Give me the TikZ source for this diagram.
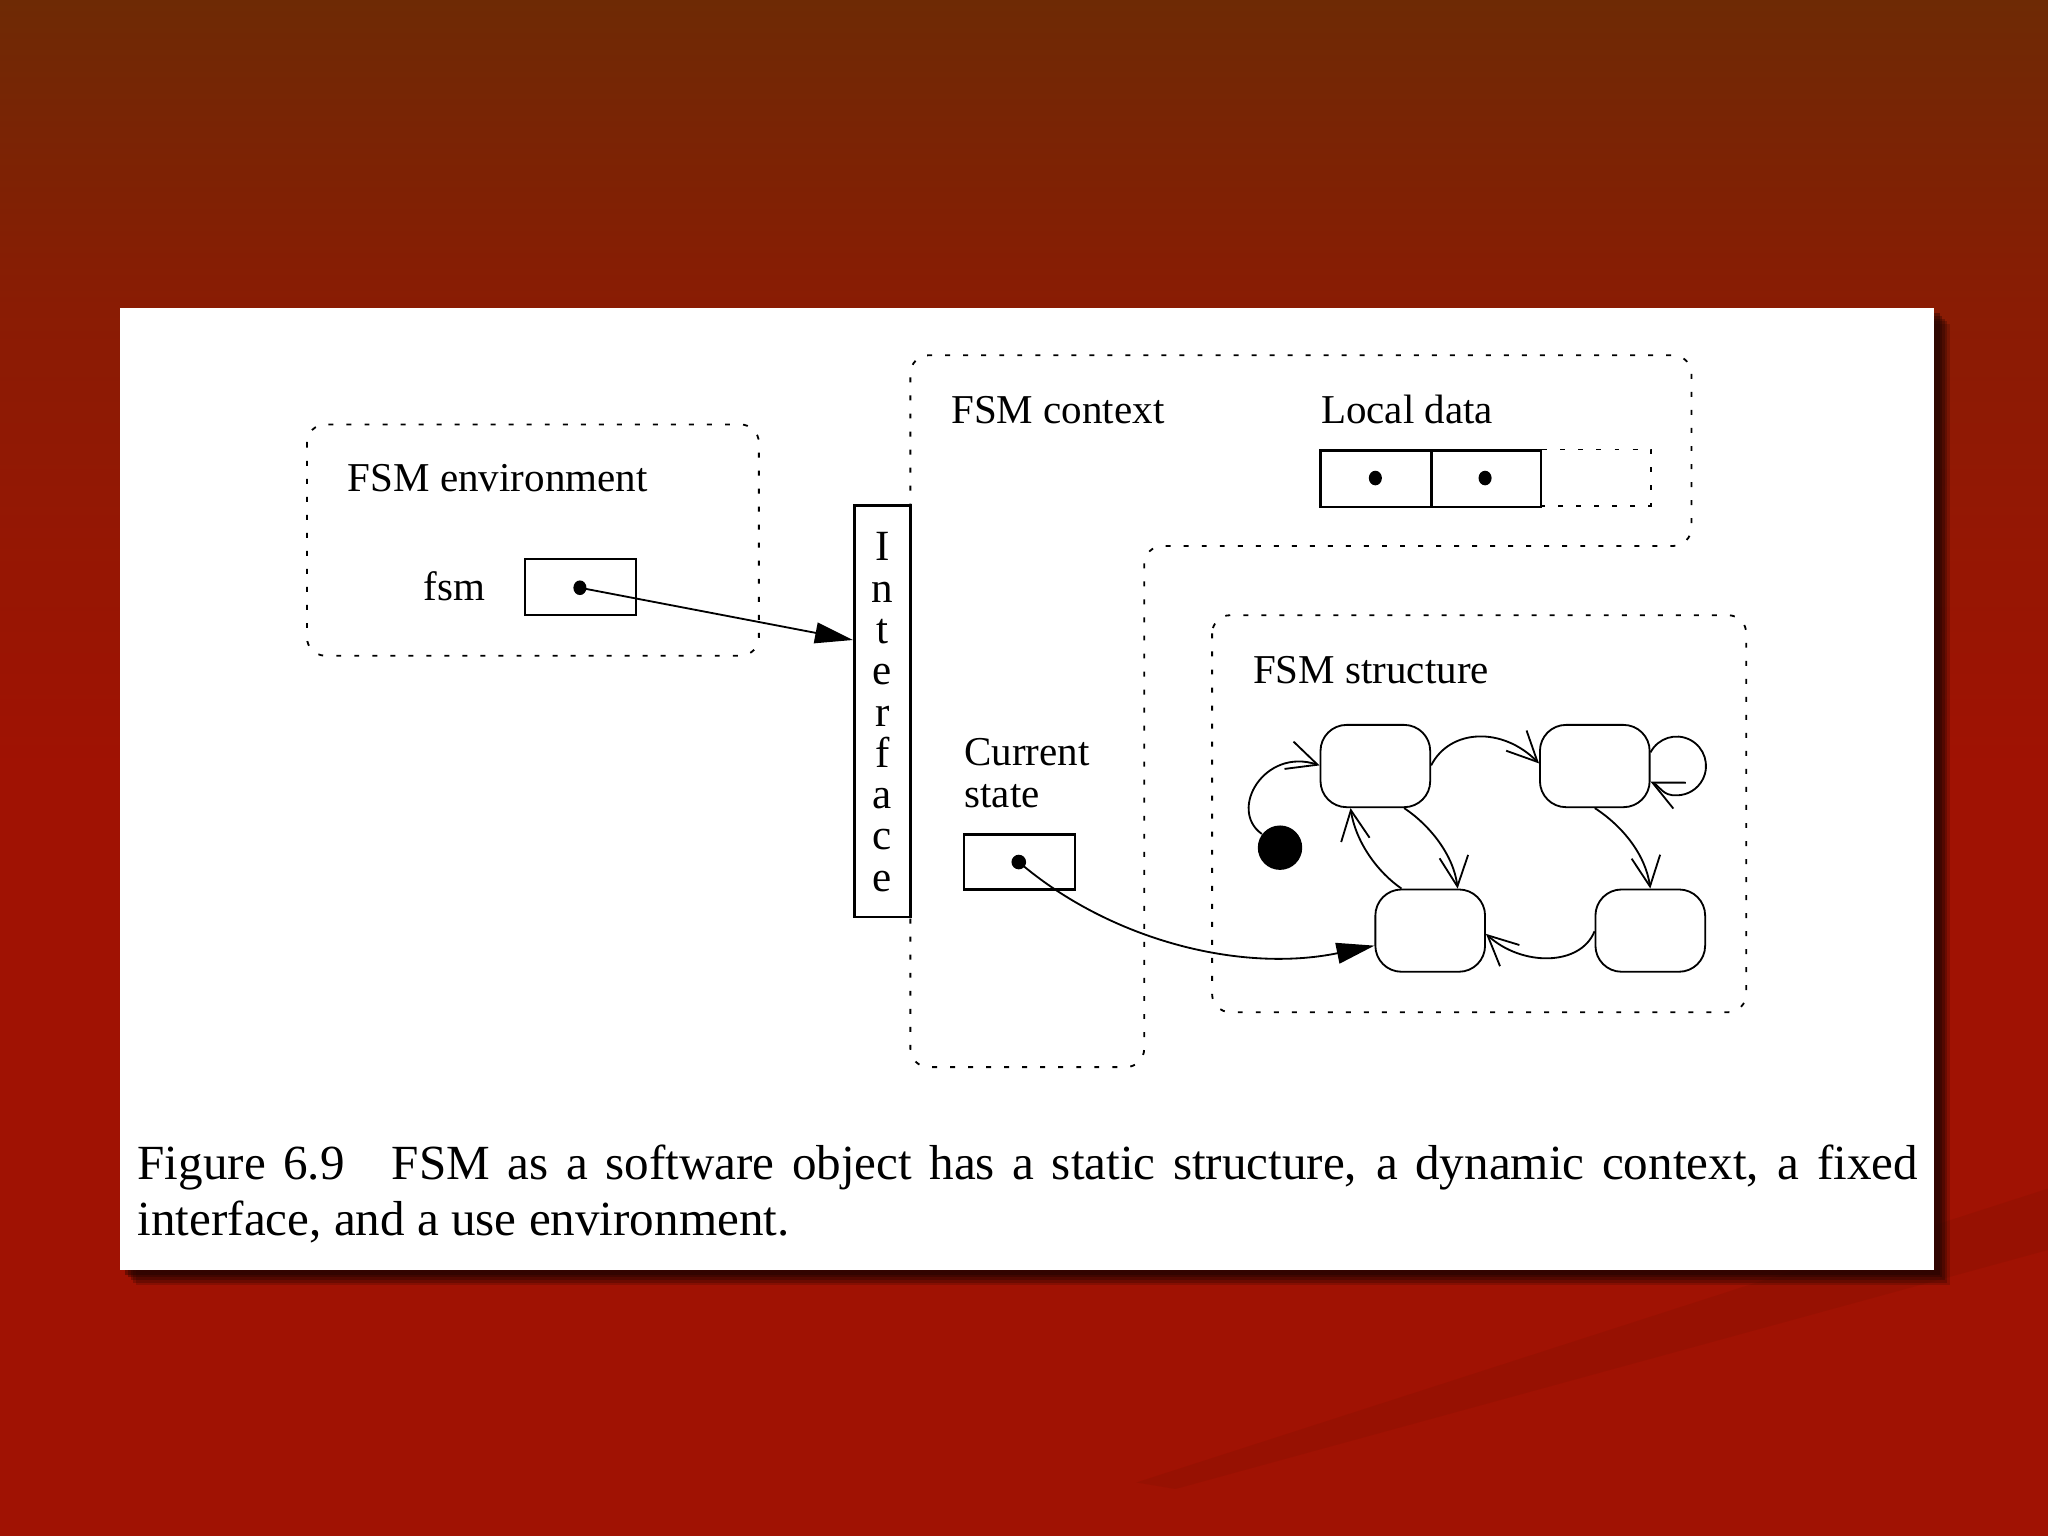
\documentclass[tikz,border=0pt]{standalone}
\usepackage{fontspec}
\setmainfont{Liberation Serif}
\usetikzlibrary{arrows.meta,calc,shapes.geometric}
\definecolor{bgtop}{HTML}{6E2A05}
\definecolor{bgmid}{HTML}{8A1C04}
\definecolor{bgbot}{HTML}{A01203}
\definecolor{shadowc}{HTML}{1E0300}
\pgfdeclareverticalshading{bgshade}{100bp}{color(0bp)=(bgbot); color(50bp)=(bgbot); color(65bp)=(bgmid); color(75bp)=(bgtop); color(100bp)=(bgtop)}
\begin{document}
\begin{tikzpicture}[x=0.5pt,y=-0.5pt,
  lbl/.style={font=\fontsize{15.7}{16}\selectfont, inner sep=0, anchor=base west},
  ifletter/.style={font=\fontsize{16.5}{16}\selectfont, inner sep=0, anchor=base},
  dotbox/.style={line width=0.7pt, dash pattern=on 1.9pt off 5pt},
  cellbox/.style={draw, line width=0.9pt, inner sep=0, minimum width=42.5pt, minimum height=21.5pt},
  fsmstate/.style={draw, line width=0.7pt, rounded corners=10pt, minimum width=42pt, minimum height=31.5pt, inner sep=0},
  ptdot/.style={ellipse, fill=black, inner sep=0, minimum width=5pt, minimum height=5.6pt},
  solidarrow/.style={line width=0.7pt, -{Triangle[length=14.5pt,width=8pt]}},
  openarrow/.style={line width=0.7pt, -{Straight Barb[length=11.5pt,width=11pt,line width=0.7pt]}}
]
\useasboundingbox (0,0) rectangle (1568,1176);
% background
\shade[shading=bgshade] (0,0) rectangle (1568,1176);
\fill[black, opacity=0.05] (1568,910) -- (1568,957) -- (900,1140) -- (870,1135) -- cycle;
% panel shadow
\foreach \d/\o in {12/0.2,10/0.25,8/0.3,6/0.35,4/0.4}
  \fill[shadowc, opacity=\o] (92+\d,236+\d) rectangle (1481+\d,972+\d);
\fill[white] (92,236) rectangle (1481,972);

% FSM environment
\draw[dotbox, rounded corners=7pt] (235,325) rectangle (581,502);
\node[lbl] (envlbl) at (266,376) {FSM environment};
\node[lbl] (fsmlbl) at (324,460) {fsm};
\node[cellbox] (fsmbox) at (444.5,449.5) {};
\node[ptdot] (fsmdot) at (444,450) {};

% FSM context
\draw[dotbox, rounded corners=7pt] (697,500) -- (697,272) -- (1295,272) -- (1295,418) -- (876,418) -- (876,817) -- (697,817) -- cycle;
\node[lbl] (ctxlbl) at (728,324) {FSM context};
\node[lbl] (ldlbl) at (1011,324) {Local data};
\node[cellbox] (ld1) at (1053.5,366.5) {};
\node[cellbox, minimum width=42pt] (ld2) at (1138,366.5) {};
\draw[dotbox] (ld2.north east) -- ++(83,0) -- ++(0,43) -- ++(-83,0);
\node[ptdot] (ld1dot) at (1053,366) {};
\node[ptdot] (ld2dot) at (1137,366) {};
\node[lbl] (curlbl) at (738,586) {Current};
\node[lbl] (statelbl) at (738,618) {state};
\node[cellbox, minimum height=21pt] (csbox) at (780.5,660) {};
\node[ptdot, minimum width=5.6pt, minimum height=5.6pt] (csdot) at (780,660) {};

% Interface
\node[draw, fill=white, line width=1pt, inner sep=0, minimum width=21.5pt, minimum height=157.5pt] (iface) at (675.5,544.5) {};
\foreach \ch [count=\i from 0] in {I,n,t,e,r,f,a,c,e}
  \node[ifletter] (if\i) at (675.5,{429.5+31.6*\i}) {\ch};

% FSM structure
\draw[dotbox, rounded corners=7pt] (928,471) rectangle (1337,775);
\node[lbl] (structlbl) at (959,523) {FSM structure};
\node[fsmstate] (s1) at (1053,586.5) {};
\node[fsmstate] (s2) at (1221,586.5) {};
\node[fsmstate] (s3) at (1095,712.5) {};
\node[fsmstate] (s4) at (1263.5,712.5) {};
\node[circle, fill=black, inner sep=0, minimum size=17pt] (init) at (980,649) {};

% transitions
\draw[openarrow] (init.143) .. controls (940,620) and (968,572) .. (s1.west |- 0,586);
\draw[openarrow] (s1.east |- 0,586) .. controls (1110,558) and (1150,556) .. (s2.west |- 0,584.5);
\draw[openarrow] ([xshift=11pt]s1.south) .. controls (1095,632) and (1113,655) .. ([xshift=10.5pt]s3.north);
\draw[openarrow] ([xshift=-11pt]s3.north) .. controls (1055,668) and (1038,645) .. ([xshift=-9.5pt]s1.south);
\draw[openarrow] (s2.south) .. controls (1243,633) and (1260,655) .. (s4.north);
\draw[openarrow] (s4.west |- 0,713) .. controls (1210,740) and (1165,740) .. (s3.east |- 0,715);
\draw[openarrow] ([yshift=5.25pt]s2.east) arc[start angle=207.6, end angle=450, radius=22.5] .. controls (1273,609.5) and (1271,602) .. ([yshift=-6pt]s2.east);

% pointers
\draw[solidarrow] (fsmdot.center) -- (iface.west |- 0,490);
\draw[solidarrow] (csdot.center) .. controls (850,720) and (950,745) .. (s3.west |- 0,724);

% caption
\node[anchor=north west, inner sep=0, text width=681.5pt, align=justify, font=\fontsize{18.8}{21.5}\selectfont] (cap) at (105,876) {\noindent Figure 6.9\hspace{0.6em} FSM as a software object has a static structure, a dynamic context, a fixed interface, and a use environment.};
\end{tikzpicture}
\end{document}
